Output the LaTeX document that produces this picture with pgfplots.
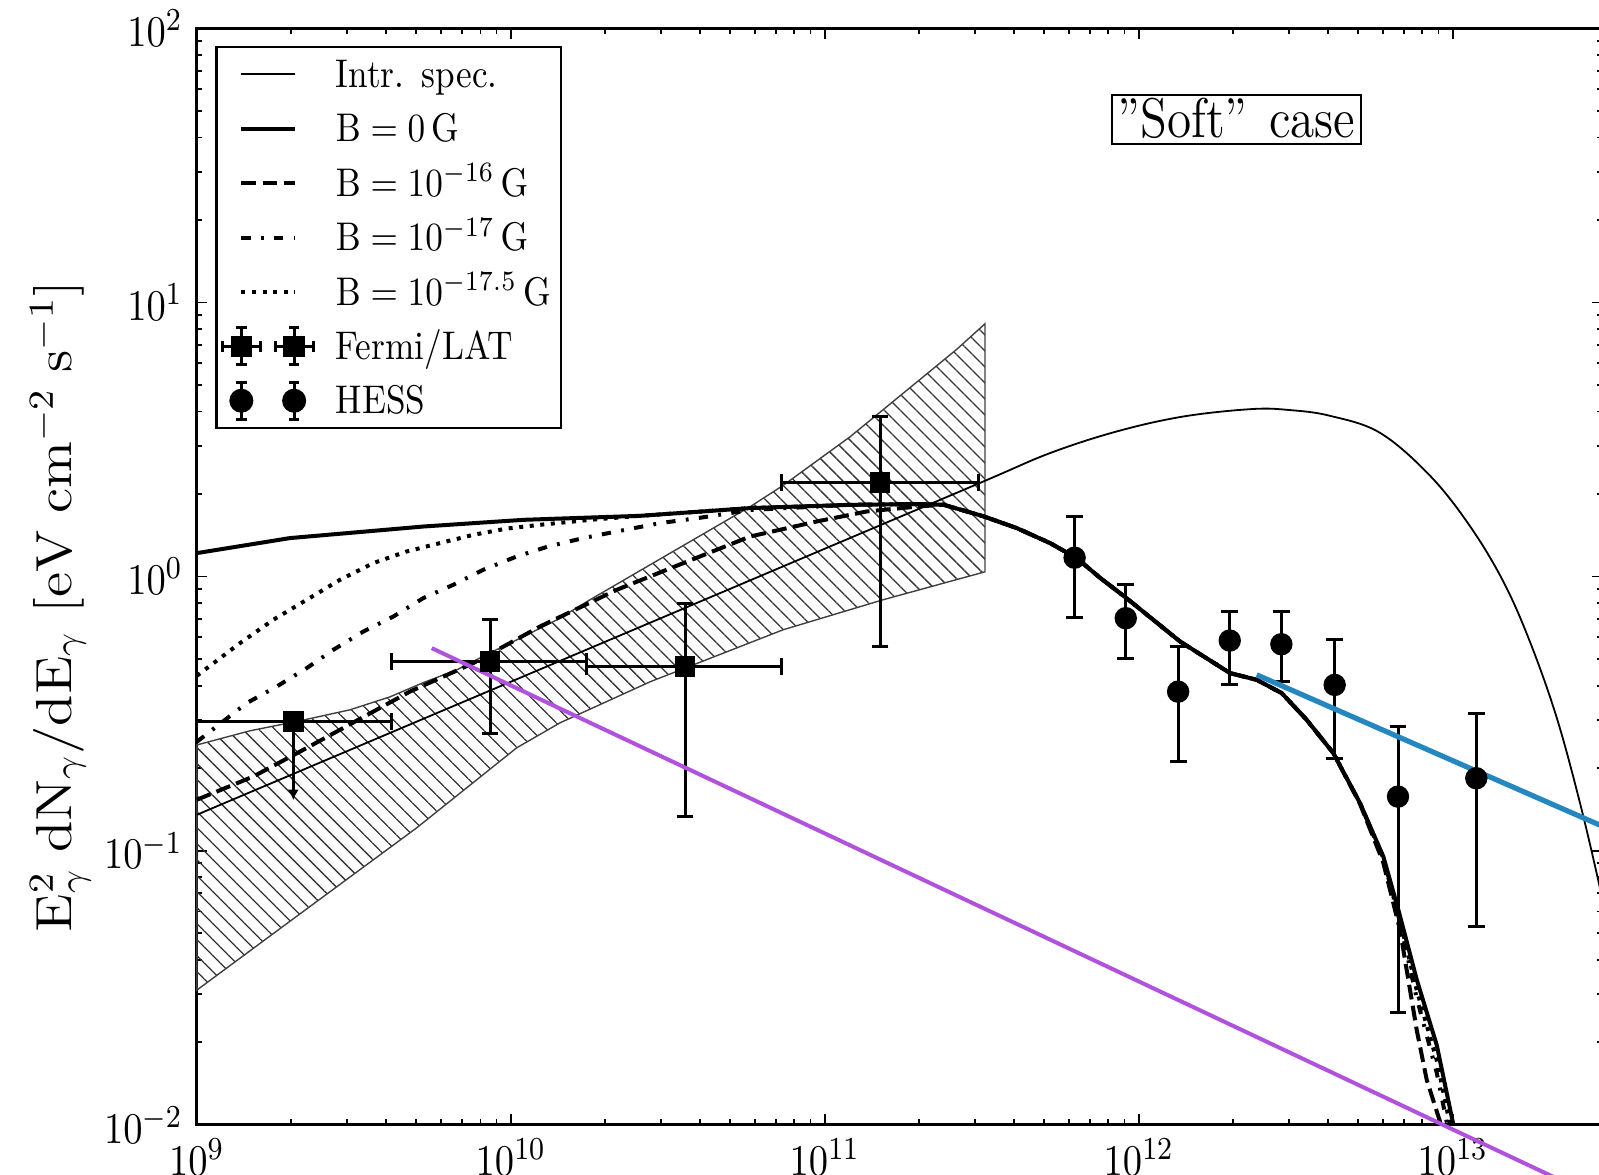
\documentclass[border=0pt]{standalone}
\usepackage{graphicx}
\usepackage{pgfplots}
\pgfplotsset{compat=1.18}
\usetikzlibrary{patterns.meta,arrows.meta}
\newcommand{\sx}[1]{\scalebox{0.88}[1]{#1}}
\definecolor{purp}{RGB}{176,82,222}
\definecolor{blu}{RGB}{37,135,192}
\pgfplotsset{legend image code/.code={\draw[#1] (0pt,0pt) -- (13.4pt,0pt);}}
\newcommand{\fermione}[1]{%
  \draw[line width=0.75pt] ({#1-4.75pt},0pt) -- ({#1+4.75pt},0pt);
  \draw[line width=0.75pt] ({#1-4.75pt},-1.3pt) -- ({#1-4.75pt},1.3pt);
  \draw[line width=0.75pt] ({#1+4.75pt},-1.3pt) -- ({#1+4.75pt},1.3pt);
  \draw[line width=0.75pt] (#1,-4.6pt) -- (#1,4.6pt);
  \draw[line width=0.75pt] ({#1-1.3pt},-4.6pt) -- ({#1+1.3pt},-4.6pt);
  \draw[line width=0.75pt] ({#1-1.3pt},4.6pt) -- ({#1+1.3pt},4.6pt);
  \fill ({#1-2.4pt},-2.4pt) rectangle ({#1+2.4pt},2.4pt);}
\newcommand{\hessone}[1]{%
  \draw[line width=0.75pt] (#1,-4.6pt) -- (#1,4.6pt);
  \draw[line width=0.75pt] ({#1-1.3pt},-4.6pt) -- ({#1+1.3pt},-4.6pt);
  \draw[line width=0.75pt] ({#1-1.3pt},4.6pt) -- ({#1+1.3pt},4.6pt);
  \fill (#1,0pt) circle (2.7pt);}
\newcommand{\fermiimg}{\fermione{0pt}\fermione{13.2pt}}
\newcommand{\hessimg}{\hessone{0pt}\hessone{13.2pt}}
\begin{document}
\begin{tikzpicture}
\useasboundingbox (-49.2pt,-12.55pt) rectangle (350.55pt,281.2pt);
\clip (-49.2pt,-12.55pt) rectangle (350.55pt,281.2pt);
\begin{axis}[
  at={(0pt,0pt)}, anchor=south west, scale only axis,
  width=351.45pt, height=274.1pt,
  xmode=log, ymode=log,
  xmin=1e9, xmax=3e13, ymin=1e-2, ymax=1e2,
  clip=false,
  axis line style={line width=0.7pt},
  tick align=inside, xtick pos=both, ytick pos=both,
  major tick length=2.6pt, minor tick length=1.4pt,
  every tick/.style={black, line width=0.45pt},
  xticklabel={\sx{\axisdefaultticklabellog}},
  yticklabel={\sx{\axisdefaultticklabellog}},
  ticklabel style={font=\fontsize{11.2}{13}\selectfont},
  legend cell align=left,
  legend style={at={(0.0131,0.984)}, anchor=north west, draw=black,
    line width=0.6pt, inner xsep=1.1pt, inner ysep=0pt,
    row sep=0pt, column sep=5.3pt,
    font=\fontsize{10}{12}\selectfont,
    nodes={inner xsep=0pt, inner ysep=0pt, text height=10.1pt, text depth=3.5pt, text width=55.2pt}},
]
% Fermi butterfly
\addplot[forget plot, draw=black!75, line width=0.35pt,
  pattern={Lines[angle=-45,distance=2.83pt,line width=0.32pt]}, pattern color=black!80]
 coordinates {(1e9,0.243) (1.477e9,0.2738) (2.132e9,0.2978) (3.075e9,0.3266) (4.124e9,0.3642)
  (5.253e9,0.41) (6.741e9,0.4571) (8.588e9,0.5272) (1.094e10,0.6031) (1.403e10,0.6957)
  (1.787e10,0.8229) (2.675e10,1.077) (5.779e10,1.798) (7.362e10,2.15) (1.203e11,3.236)
  (1.966e11,5.13) (2.636e11,6.76) (3.237e11,8.363)
  (3.237e11,1.041) (1.532e11,0.8229) (7.362e10,0.6396) (2.776e10,0.4132) (1.435e10,0.2928)
  (1.044e10,0.2373) (5.016e9,0.1212) (2.132e9,0.05885) (1e9,0.031)} -- cycle;
% intrinsic spectrum
\addplot[forget plot, black, line width=0.45pt, smooth, tension=0.6]
 coordinates {(1e9,0.1352) (1e11,1.264) (3.198e11,2.223) (5.215e11,2.822) (8.502e11,3.384)
  (1.386e12,3.838) (2.294e12,4.085) (3.03e12,4.05) (4.063e12,3.86) (5.865e12,3.345)
  (8.46e12,2.334) (1.134e13,1.528) (1.448e13,0.9596) (1.762e13,0.5771) (2.142e13,0.3059)
  (2.542e13,0.149) (2.922e13,0.0757) (3.0e13,0.064)};
% B = 10^-17.5 (dotted)
\addplot[forget plot, black, line width=1pt, dash pattern=on 1pt off 1.65pt]
 coordinates {(1e9,0.4346) (1.373e9,0.572) (1.752e9,0.6957) (2.239e9,0.8229) (2.858e9,0.9734)
  (3.648e9,1.12) (4.661e9,1.235) (5.951e9,1.325) (7.597e9,1.42) (9.703e9,1.497)
  (1.239e10,1.545) (1.787e10,1.611) (2.579e10,1.666) (5.779e10,1.778) (1.203e11,1.827)
  (1.962e11,1.84) (2.385e11,1.83) (3.198e11,1.66) (4.084e11,1.503) (5.215e11,1.325)
  (6.342e11,1.168) (7.523e11,0.99) (9.106e11,0.837) (1.353e12,0.5796) (1.952e12,0.4446)
  (2.374e12,0.4201) (2.851e12,0.3758) (3.424e12,0.3003) (4.164e12,0.227) (5.064e12,0.1491)
  (6.008e12,0.094) (6.706e12,0.059) (7.674e12,0.031) (8.887e12,0.0172) (9.8e12,0.01)};
% B = 10^-17 (dash dot)
\addplot[forget plot, black, line width=1pt, dash pattern=on 2.3pt off 2.6pt on 0.7pt off 2.6pt]
 coordinates {(1e9,0.2496) (1.441e9,0.3455) (1.797e9,0.3972) (2.239e9,0.4636) (2.721e9,0.5406)
  (3.391e9,0.6303) (4.226e9,0.7152) (5.264e9,0.8348) (6.56e9,0.9335) (8.173e9,1.059)
  (1.044e10,1.184) (1.316e10,1.288) (1.702e10,1.382) (2.175e10,1.461) (2.987e10,1.567)
  (4.004e10,1.639) (5.779e10,1.75) (1.203e11,1.827)
  (1.962e11,1.84) (2.385e11,1.83) (3.198e11,1.66) (4.084e11,1.503) (5.215e11,1.325)
  (6.342e11,1.168) (7.523e11,0.99) (9.106e11,0.837) (1.353e12,0.5796) (1.952e12,0.4446)
  (2.374e12,0.4201) (2.851e12,0.3758) (3.424e12,0.3003) (4.164e12,0.227) (5.064e12,0.1491)
  (6.008e12,0.0935) (6.706e12,0.058) (7.674e12,0.029) (8.887e12,0.0155) (9.6e12,0.01)};
% B = 10^-16 (dashed)
\addplot[forget plot, black, line width=1pt, dash pattern=on 3.7pt off 1.6pt]
 coordinates {(1e9,0.1534) (1.513e9,0.1865) (2.184e9,0.2334) (3.268e9,0.3003) (4.775e9,0.3808)
  (7.597e9,0.4835) (1.239e10,0.6575) (2.175e10,0.895) (3.543e10,1.12) (5.779e10,1.4)
  (9.424e10,1.589) (1.36e11,1.728) (1.962e11,1.80) (2.385e11,1.83) (3.198e11,1.66)
  (4.084e11,1.503) (5.215e11,1.325) (6.342e11,1.168) (7.523e11,0.99) (9.106e11,0.837)
  (1.353e12,0.5796) (1.952e12,0.4446) (2.374e12,0.4201) (2.851e12,0.3758) (3.424e12,0.3003)
  (4.164e12,0.227) (5.064e12,0.148) (5.995e12,0.0911) (6.79e12,0.0514) (7.674e12,0.0222)
  (8.257e12,0.0146) (9.171e12,0.01)};
% B = 0 (solid)
\addplot[forget plot, black, line width=1pt]
 coordinates {(1e9,1.218) (1.981e9,1.382) (5.264e9,1.523) (1.096e10,1.611) (2.579e10,1.666)
  (5.779e10,1.778) (1.203e11,1.827) (1.962e11,1.84) (2.385e11,1.83) (3.198e11,1.66)
  (4.084e11,1.503) (5.215e11,1.325) (6.342e11,1.168) (7.523e11,0.99) (9.106e11,0.837)
  (1.353e12,0.5796) (1.952e12,0.4446) (2.374e12,0.4201) (2.851e12,0.3758) (3.424e12,0.3003)
  (4.164e12,0.227) (5.064e12,0.1491) (6.008e12,0.0952) (6.706e12,0.0609) (7.674e12,0.0339)
  (8.887e12,0.01955) (1.004e13,0.01)};
% Fermi/LAT
\addplot[forget plot, only marks, black, mark=square*, mark size=2.35pt,
  error bars/.cd, x dir=both, x explicit, y dir=both, y explicit,
  error bar style={line width=0.75pt},
  error mark options={rotate=90, line width=0.75pt, mark size=2.1pt}]
 table[x=x, y=y, x error plus=xp, x error minus=xm, y error plus=yp, y error minus=ym] {
 x y xm xp ym yp
 8.588e9 0.490 4.411e9 8.862e9 0.2215 0.2057
 3.587e10 0.4698 1.842e10 3.703e10 0.3366 0.3307
 1.499e11 2.204 7.70e10 1.584e11 1.647 1.634
 };
\addplot[forget plot, only marks, black, mark=square*, mark size=2.35pt,
  error bars/.cd, x dir=both, x explicit,
  error bar style={line width=0.75pt},
  error mark options={rotate=90, line width=0.75pt, mark size=2.1pt}]
 table[x=x, y=y, x error plus=xp, x error minus=xm] {
 x y xm xp
 2.029e9 0.296 1.029e9 2.148e9
 };
\addplot[forget plot, black, line width=0.75pt, -{Latex[length=2.6pt,width=2.8pt]}]
 coordinates {(2.029e9,0.296) (2.029e9,0.153)};
% HESS
\addplot[forget plot, only marks, black, mark=*, mark size=2.6pt,
  error bars/.cd, y dir=both, y explicit,
  error bar style={line width=0.75pt},
  error mark options={rotate=90, line width=0.75pt, mark size=2.1pt}]
 table[x=x, y=y, y error plus=yp, y error minus=ym] {
 x y ym yp
 6.245e11 1.172 0.465 0.479
 9.087e11 0.705 0.201 0.227
 1.334e12 0.3804 0.169 0.175
 1.948e12 0.5843 0.182 0.161
 2.844e12 0.5666 0.152 0.179
 4.205e12 0.4025 0.185 0.185
 6.69e12 0.1575 0.1318 0.126
 1.188e13 0.1838 0.131 0.133
 };
% overlaid lines
\addplot[forget plot, purp, line width=1pt] coordinates {(5.6e9,0.5483) (2.24e13,0.00622)};
\addplot[forget plot, blu, line width=1.3pt] coordinates {(2.374e12,0.4382) (3.168e13,0.1194)};
% legend
\addlegendimage{black, line width=0.45pt}
\addlegendentry{\sx{Intr. spec.}}
\addlegendimage{black, line width=1pt}
\addlegendentry{\sx{$\mathrm{B = 0\,G}$}}
\addlegendimage{black, line width=1pt, dash pattern=on 3.7pt off 1.6pt}
\addlegendentry{\sx{$\mathrm{B = 10^{-16}\,G}$}}
\addlegendimage{black, line width=1pt, dash pattern=on 2.3pt off 2.6pt on 0.7pt off 2.6pt}
\addlegendentry{\sx{$\mathrm{B = 10^{-17}\,G}$}}
\addlegendimage{black, line width=1pt, dash pattern=on 1pt off 1.65pt}
\addlegendentry{\sx{$\mathrm{B = 10^{-17.5}\,G}$}}
\addlegendimage{legend image code/.code={\fermiimg}}
\addlegendentry{\sx{Fermi/LAT}}
\addlegendimage{legend image code/.code={\hessimg}}
\addlegendentry{\sx{HESS}}
\node[draw=black, line width=0.5pt, inner xsep=1pt, inner ysep=1pt, minimum width=62.4pt,
  text height=9.8pt, text depth=0.4pt] at (rel axis cs:0.7395,0.9172)
  {\fontsize{14}{16}\selectfont\sx{''Soft''\hspace{1.5pt} case}};
\end{axis}
\node[rotate=90] at (-34.1pt,129.5pt)
  {\fontsize{14}{16}\selectfont\scalebox{1}[0.88]{$\mathrm{E_\gamma^2\;dN_\gamma/dE_\gamma\ [eV\;cm^{-2}\;s^{-1}]}$}};
\end{tikzpicture}
\end{document}
